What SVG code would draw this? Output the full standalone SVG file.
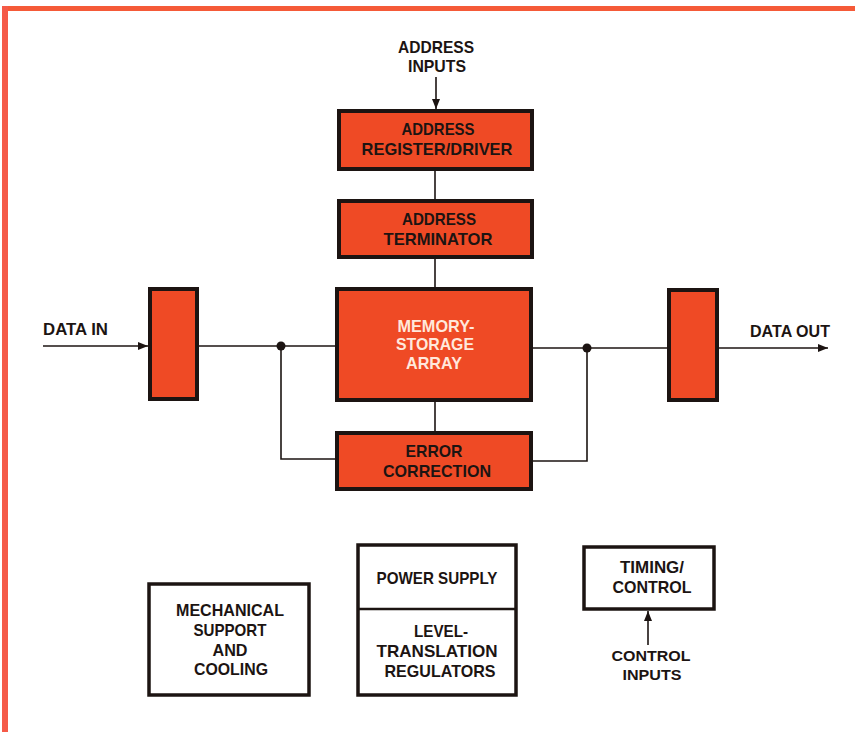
<svg xmlns="http://www.w3.org/2000/svg" width="855" height="732" viewBox="0 0 855 732">
<defs>
<style>
.blk{fill:#ef4a25;stroke:#1c1412;stroke-width:4}
.wbox{fill:#fff;stroke:#1c1412;stroke-width:3.5}
.ln{fill:none;stroke:#1c1412;stroke-width:1.6}
text{font-family:"Liberation Sans",Arial,sans-serif;font-weight:bold;font-size:17px;fill:#1c1412;text-anchor:middle}
text.w{fill:#ffe8dc}
text.l{text-anchor:start}
text.s{font-size:15.5px}
</style>
<marker id="ah" viewBox="0 0 10 10" refX="10" refY="5" markerWidth="10" markerHeight="10" markerUnits="userSpaceOnUse" orient="auto">
<path d="M0,1 L10,5 L0,9 Z" fill="#1c1412"/>
</marker>
</defs>
<rect x="0" y="0" width="855" height="732" fill="#fff"/>
<rect x="2" y="6" width="853" height="5" fill="#f55a38"/>
<rect x="2" y="6" width="6" height="726" fill="#f55a48"/>

<g id="connectors">
<line class="ln" x1="436" y1="77" x2="436" y2="109" marker-end="url(#ah)"/>
<line class="ln" x1="435" y1="171" x2="435" y2="199"/>
<line class="ln" x1="435" y1="259" x2="435" y2="287"/>
<line class="ln" x1="435" y1="402" x2="435" y2="431"/>
<line class="ln" x1="43" y1="346" x2="148" y2="346" marker-end="url(#ah)"/>
<line class="ln" x1="199" y1="346" x2="335" y2="346"/>
<polyline class="ln" points="281,346 281,459 335,459"/>
<circle cx="281" cy="346" r="4.5" fill="#1c1412"/>
<line class="ln" x1="533" y1="348" x2="667" y2="348"/>
<polyline class="ln" points="587,348 587,461 533,461"/>
<circle cx="587" cy="348" r="4.5" fill="#1c1412"/>
<line class="ln" x1="719" y1="348" x2="828" y2="348" marker-end="url(#ah)"/>
<line class="ln" x1="648" y1="645" x2="648" y2="611" marker-end="url(#ah)"/>
</g>

<g id="address-inputs">
<text x="436" y="53" textLength="76" lengthAdjust="spacingAndGlyphs">ADDRESS</text>
<text x="437" y="72" textLength="58" lengthAdjust="spacingAndGlyphs">INPUTS</text>
</g>

<g id="address-register">
<rect class="blk" x="339" y="111" width="193" height="58"/>
<text x="438" y="135" textLength="73" lengthAdjust="spacingAndGlyphs">ADDRESS</text>
<text x="437" y="155" textLength="151" lengthAdjust="spacingAndGlyphs">REGISTER/DRIVER</text>
</g>

<g id="address-terminator">
<rect class="blk" x="339" y="201" width="193" height="56"/>
<text x="439" y="225" textLength="74" lengthAdjust="spacingAndGlyphs">ADDRESS</text>
<text x="438" y="245" textLength="109" lengthAdjust="spacingAndGlyphs">TERMINATOR</text>
</g>

<g id="memory-array">
<rect class="blk" x="337" y="289" width="194" height="111"/>
<text class="w" x="436" y="332" textLength="77" lengthAdjust="spacingAndGlyphs">MEMORY-</text>
<text class="w" x="435" y="350" textLength="78" lengthAdjust="spacingAndGlyphs">STORAGE</text>
<text class="w" x="434" y="369" textLength="56" lengthAdjust="spacingAndGlyphs">ARRAY</text>
</g>

<g id="error-correction">
<rect class="blk" x="337" y="433" width="194" height="56"/>
<text x="434" y="457" textLength="57" lengthAdjust="spacingAndGlyphs">ERROR</text>
<text x="437" y="477" textLength="108" lengthAdjust="spacingAndGlyphs">CORRECTION</text>
</g>

<g id="input-buffer">
<rect class="blk" x="150" y="289" width="47" height="110"/>
</g>

<g id="output-buffer">
<rect class="blk" x="669" y="290" width="48" height="110"/>
</g>

<g id="data-in-label">
<text class="l" x="43" y="335" textLength="65" lengthAdjust="spacingAndGlyphs">DATA IN</text>
</g>

<g id="data-out-label">
<text class="l" x="750" y="337" textLength="80" lengthAdjust="spacingAndGlyphs">DATA OUT</text>
</g>

<g id="mechanical">
<rect class="wbox" x="149" y="584" width="160" height="111"/>
<text x="230" y="616" textLength="108" lengthAdjust="spacingAndGlyphs">MECHANICAL</text>
<text x="230" y="636" textLength="73" lengthAdjust="spacingAndGlyphs">SUPPORT</text>
<text x="230" y="656" textLength="35" lengthAdjust="spacingAndGlyphs">AND</text>
<text x="231" y="675" textLength="74" lengthAdjust="spacingAndGlyphs">COOLING</text>
</g>

<g id="power-supply">
<rect class="wbox" x="358" y="545" width="158" height="150"/>
<line x1="358" y1="609" x2="516" y2="609" stroke="#1c1412" stroke-width="2.5"/>
<text x="437" y="584" textLength="121" lengthAdjust="spacingAndGlyphs">POWER SUPPLY</text>
<text x="441" y="637" textLength="54" lengthAdjust="spacingAndGlyphs">LEVEL-</text>
<text x="437" y="657" textLength="121" lengthAdjust="spacingAndGlyphs">TRANSLATION</text>
<text x="440" y="677" textLength="111" lengthAdjust="spacingAndGlyphs">REGULATORS</text>
</g>

<g id="timing-control">
<rect class="wbox" x="584" y="547" width="130" height="62"/>
<text x="652" y="573" textLength="64" lengthAdjust="spacingAndGlyphs">TIMING/</text>
<text x="652" y="593" textLength="79" lengthAdjust="spacingAndGlyphs">CONTROL</text>
</g>

<g id="control-inputs">
<text class="s" x="651" y="661" textLength="79" lengthAdjust="spacingAndGlyphs">CONTROL</text>
<text class="s" x="652" y="680" textLength="59" lengthAdjust="spacingAndGlyphs">INPUTS</text>
</g>
</svg>
